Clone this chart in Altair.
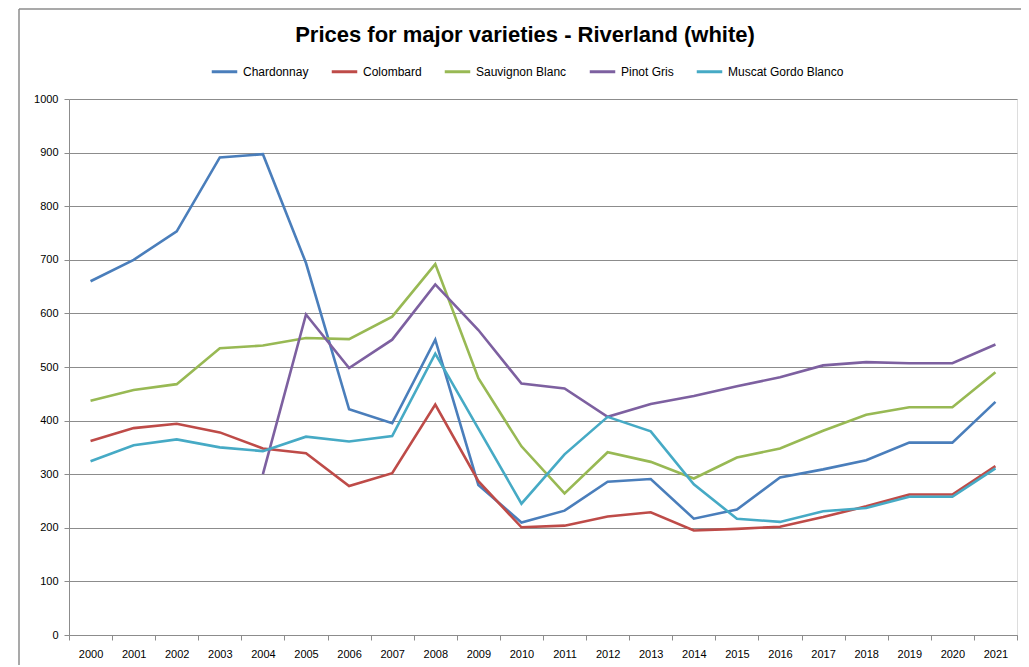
import altair as alt
import pandas as pd

years = [str(y) for y in range(2000, 2022)]
varieties = ["Chardonnay", "Colombard", "Sauvignon Blanc", "Pinot Gris", "Muscat Gordo Blanco"]
colors = ["#4A7EBB", "#BE4B48", "#98B954", "#7D60A0", "#46AAC5"]

chardonnay = [660, 700, 753, 891, 897, 694, 421, 395, 551, 280, 210, 232, 286, 291, 217, 234, 294, 309, 326, 359, 359, 435]
colombard = [362, 386, 394, 378, 348, 339, 278, 302, 430, 287, 201, 204, 221, 229, 195, 198, 202, 220, 240, 262, 262, 315]
sauvignon_blanc = [437, 457, 468, 535, 540, 554, 552, 594, 692, 479, 352, 264, 341, 323, 292, 331, 348, 381, 411, 425, 425, 490]
pinot_gris = [None, None, None, None, 300, 598, 498, 551, 654, 569, 469, 460, 407, 431, 446, 464, 481, 503, 509, 507, 507, 542]
muscat_gordo_blanco = [324, 354, 365, 350, 343, 370, 361, 371, 525, 385, 245, 337, 407, 380, 281, 217, 211, 231, 237, 258, 258, 311]

series = [chardonnay, colombard, sauvignon_blanc, pinot_gris, muscat_gordo_blanco]
rows = []
for name, vals in zip(varieties, series):
    for yr, v in zip(years, vals):
        if v is not None:
            rows.append({"year": yr, "price": v, "variety": name})
df = pd.DataFrame(rows)

FONT = "Liberation Sans Narrow, Arial Narrow, Liberation Sans, sans-serif"

lines = alt.Chart(df).mark_line(strokeWidth=2.6).encode(
    x=alt.X(
        "year:O",
        title=None,
        sort=years,
        bandPosition=0.5,
        scale=alt.Scale(type="band", paddingInner=0, paddingOuter=0),
        axis=alt.Axis(
            labelAngle=0, tickBand="extent", grid=False, domainColor="#8c8c8c",
            tickColor="#8c8c8c", tickSize=5, labelPadding=8, labelFontSize=11,
            labelColor="#000000", labelFont=FONT,
        ),
    ),
    y=alt.Y(
        "price:Q",
        title=None,
        scale=alt.Scale(domain=[0, 1000], nice=False),
        axis=alt.Axis(
            values=list(range(0, 1001, 100)), format="d", grid=True, gridColor="#8c8c8c",
            gridWidth=1, domainColor="#8c8c8c", tickColor="#8c8c8c", tickSize=5,
            labelPadding=6, labelFontSize=11, labelColor="#000000", labelFont=FONT,
        ),
    ),
    color=alt.Color(
        "variety:N",
        sort=varieties,
        scale=alt.Scale(domain=varieties, range=colors),
        legend=alt.Legend(
            title=None, orient="none", direction="horizontal", legendX=141, legendY=-42,
            symbolType="stroke", symbolSize=650, symbolStrokeWidth=3, labelFontSize=12,
            labelFont=FONT, labelColor="#000000", columnPadding=16, labelOffset=4,
        ),
    ),
    order=alt.Order("year:O"),
)

frame_src = alt.Data(values=[{"k": 1}])
frame_top = alt.Chart(frame_src).mark_rule(color="#8c8c8c", strokeWidth=1.5).encode(
    x=alt.value(-50), x2=alt.value(952), y=alt.value(-90)
)
frame_left = alt.Chart(frame_src).mark_rule(color="#8c8c8c", strokeWidth=1.5).encode(
    x=alt.value(-50), y=alt.value(-90), y2=alt.value(570)
)

chart = alt.layer(frame_top, frame_left, lines).properties(
    width=948,
    height=536,
    padding={"left": 61, "top": 91, "right": 4, "bottom": 30},
    autosize=alt.AutoSizeParams(type="none"),
    title=alt.TitleParams(
        "Prices for major varieties - Riverland (white)", anchor="middle",
        fontSize=22, font=FONT, fontWeight="bold", color="#000000", offset=0, dx=-18, dy=39,
    ),
).configure_view(stroke=None).configure(background="white")

chart.save("out.html", embed_options={"renderer": "svg", "actions": False})
